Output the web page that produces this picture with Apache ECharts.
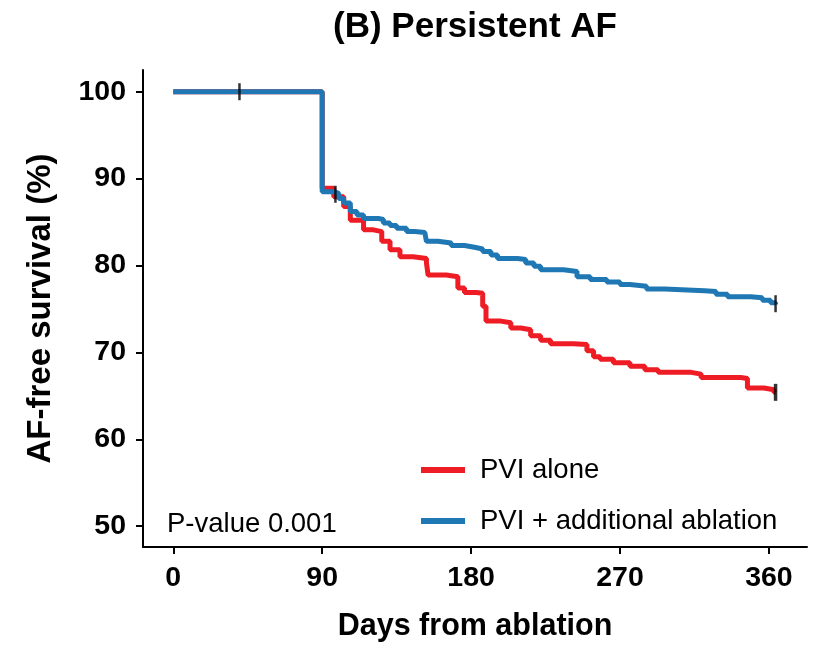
<!DOCTYPE html>
<html>
<head>
<meta charset="utf-8">
<script src="https://cdn.jsdelivr.net/npm/echarts@6/dist/echarts.min.js"></script>
<style>
  html, body { margin: 0; padding: 0; background: #fff; }
  #chart { width: 817px; height: 647px; }
</style>
</head>
<body>
<div id="chart"></div>
<script>
// PVI alone (red) - Kaplan-Meier steps [day, survival %]
var pviAlone = [
    [0, 100], [90, 88.9], [97, 87.9], [103, 86.8], [107, 85.2], [115, 84.1],
    [121, 83.9], [126, 82.8], [131, 81.8], [137, 81.0], [145, 80.8], [153, 80.3],
    [154, 78.9], [165, 78.7], [172, 77.4], [176, 76.9], [183, 76.8], [187, 75.3],
    [189, 73.6], [198, 73.4], [204, 72.8], [210, 72.6], [216, 71.9], [222, 71.4],
    [228, 71.0], [242, 70.9], [250, 70.2], [254, 69.5], [258, 69.2], [266, 68.8],
    [276, 68.4], [285, 68.0], [293, 67.7], [313, 67.5], [319, 67.1], [343, 67.0],
    [347, 65.9], [357, 65.7], [363, 65.4], [364, 65.4]
];
// PVI + additional ablation (blue)
var pviPlus = [
    [0, 100], [90, 88.5], [97, 88.3], [100, 87.7], [103, 87.2], [107, 86.2],
    [111, 85.8], [115, 85.4], [124, 85.3], [127, 84.9], [131, 84.6], [135, 84.3],
    [141, 83.9], [146, 83.8], [152, 83.7], [153, 82.8], [160, 82.6], [168, 82.3],
    [176, 82.1], [182, 81.9], [187, 81.6], [192, 81.2], [196, 80.8], [208, 80.7],
    [213, 80.3], [218, 79.9], [222, 79.5], [236, 79.3], [244, 78.7], [252, 78.4],
    [262, 78.1], [270, 77.8], [276, 77.6], [286, 77.3], [297, 77.1], [321, 77.0],
    [328, 76.7], [335, 76.4], [349, 76.3], [356, 76.0], [361, 75.7], [364, 75.5]
];
// censoring marks
var censorAlone = [[364, 65.4]];
var censorPlus = [[40, 100], [98, 88.2], [364, 75.6]];

var xTicks = [0, 90, 180, 270, 360];
var yTicks = [50, 60, 70, 80, 90, 100];
var legendNames = ["PVI alone", "PVI + additional ablation"];

const RED = "#EE1C25", BLUE = "#1F78B4";
const FONT = "'Liberation Sans', Arial, sans-serif";

var chart = echarts.init(document.getElementById("chart"));
chart.setOption({
    animation: false,
    title: [{
        text: "(B) Persistent AF",
        left: 470, top: 5, textAlign: "center",
        textStyle: {fontFamily: FONT, fontSize: 35, fontWeight: "bold", color: "#000"}
    }, {
        text: "P-value 0.001",
        left: 162, top: 505,
        textStyle: {fontFamily: FONT, fontSize: 27.5, fontWeight: "normal", color: "#000"}
    }],
    legend: {
        data: legendNames,
        orient: "vertical",
        left: 416, top: 451,
        icon: "rect",
        itemWidth: 44, itemHeight: 6,
        itemGap: 23,
        textStyle: {fontFamily: FONT, fontSize: 27.5, color: "#000", padding: [0, 0, 0, 10]}
    },
    grid: {left: 143, right: 10, top: 70, bottom: 99},
    xAxis: {
        type: "value",
        min: -18.3, max: 383,
        name: "Days from ablation",
        nameLocation: "middle",
        nameGap: 64,
        nameTextStyle: {fontFamily: FONT, fontSize: 30.5, fontWeight: "bold", color: "#000"},
        axisLine: {onZero: false, lineStyle: {color: "#000", width: 2}},
        axisTick: {customValues: xTicks, length: 7, lineStyle: {color: "#000", width: 2}},
        axisLabel: {customValues: xTicks, margin: 17, fontFamily: FONT, fontSize: 28.5, fontWeight: "bold", color: "#000"},
        splitLine: {show: false}
    },
    yAxis: {
        type: "value",
        min: 47.6, max: 102.5,
        name: "AF-free survival (%)",
        nameLocation: "middle",
        nameGap: 86,
        nameTextStyle: {fontFamily: FONT, fontSize: 33, fontWeight: "bold", color: "#000"},
        axisLine: {show: true, onZero: false, lineStyle: {color: "#000", width: 2}},
        axisTick: {show: true, customValues: yTicks, length: 7, lineStyle: {color: "#000", width: 2}},
        axisLabel: {customValues: yTicks, margin: 17, fontFamily: FONT, fontSize: 28.5, fontWeight: "bold", color: "#000"},
        splitLine: {show: false}
    },
    series: [{
        name: legendNames[0],
        type: "line",
        step: "end",
        symbol: "none",
        color: RED,
        lineStyle: {width: 5, color: RED},
        data: pviAlone,
        z: 2
    }, {
        name: legendNames[1],
        type: "line",
        step: "end",
        symbol: "none",
        color: BLUE,
        lineStyle: {width: 5, color: BLUE},
        data: pviPlus,
        z: 3
    }, {
        type: "scatter",
        symbol: "rect",
        symbolSize: [3.5, 17],
        itemStyle: {color: "#000"},
        data: censorAlone,
        z: 5
    }, {
        type: "scatter",
        symbol: "rect",
        symbolSize: [2.5, 17],
        itemStyle: {color: "#000"},
        data: censorPlus,
        z: 5
    }]
});
</script>
</body>
</html>
